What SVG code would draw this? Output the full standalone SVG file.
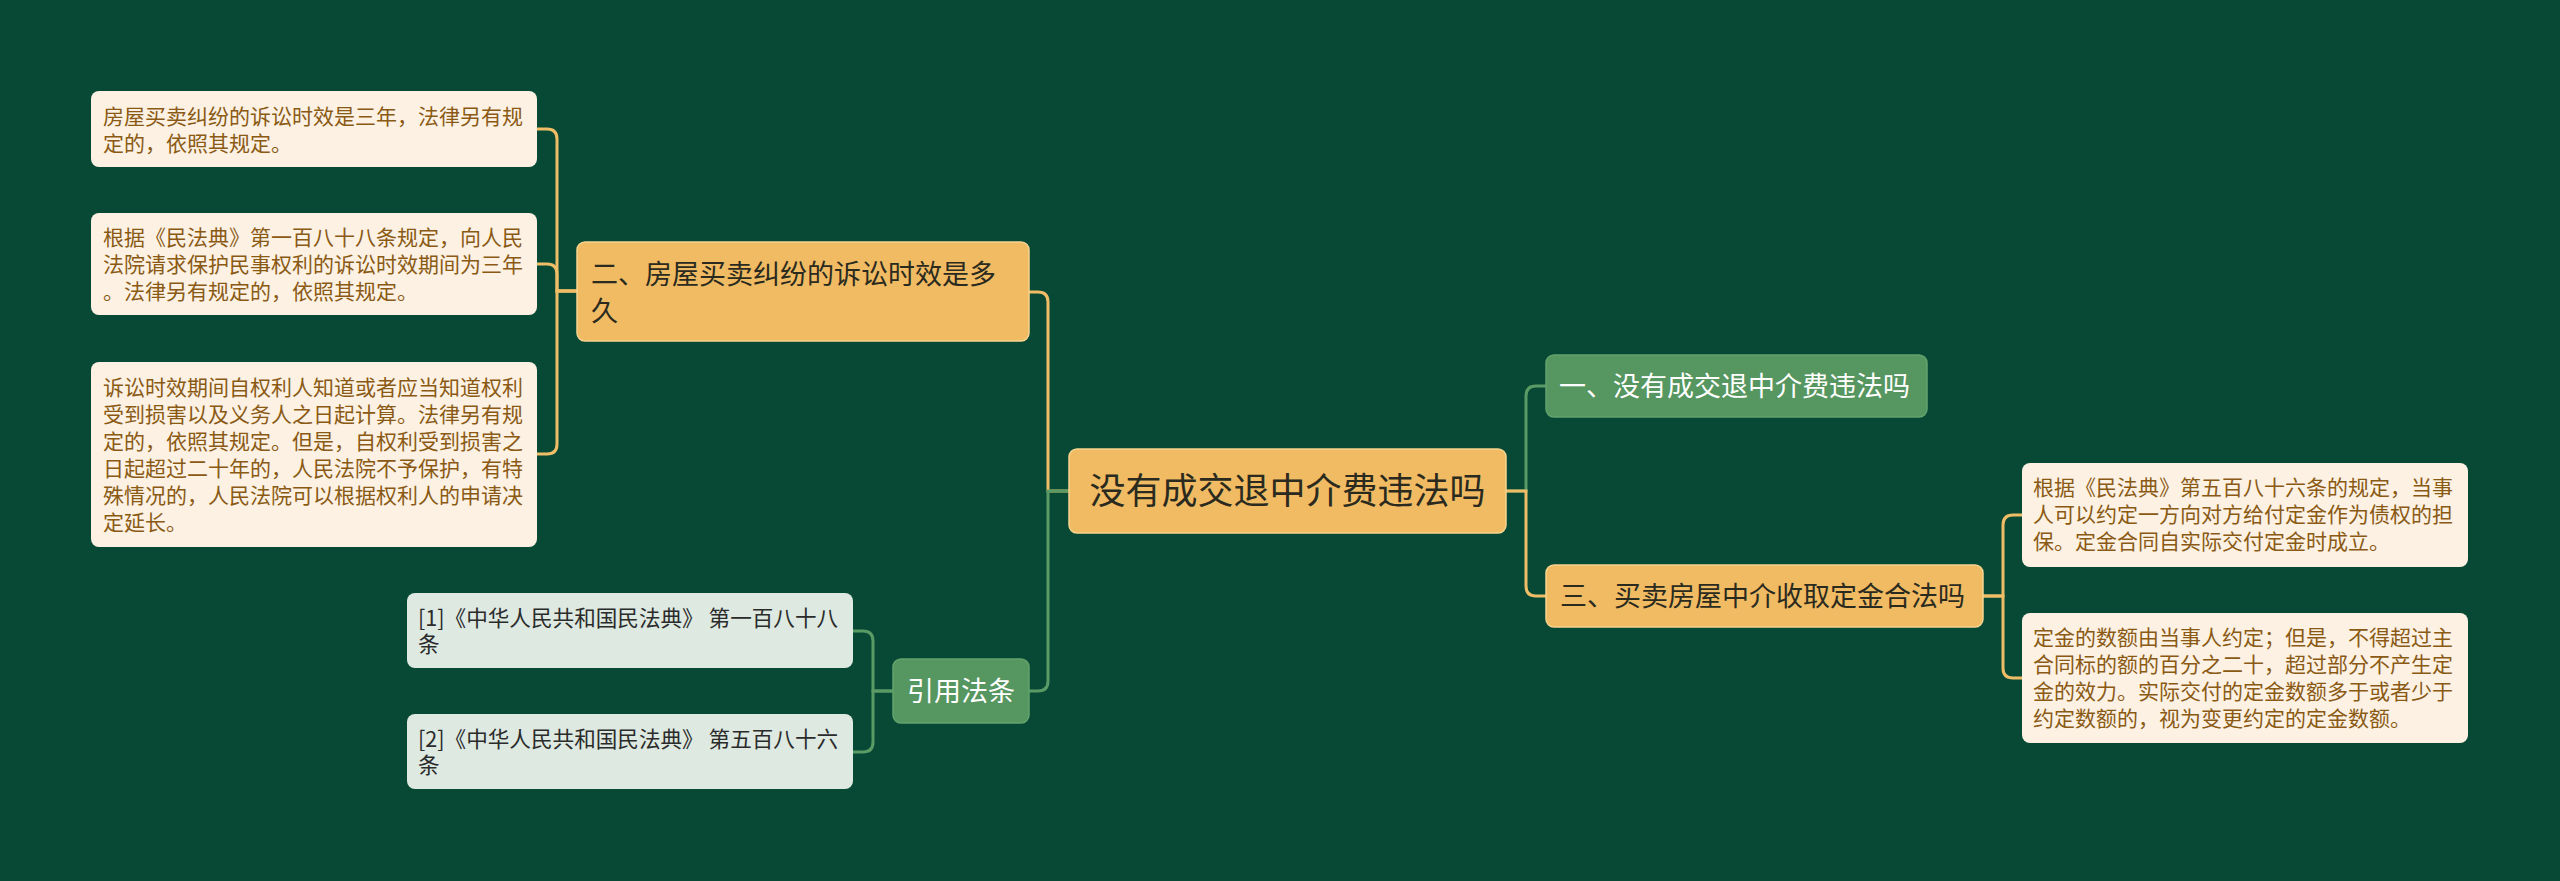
<svg xmlns="http://www.w3.org/2000/svg" width="2560" height="881" viewBox="0 0 2560 881">
<style>
text{font-family:"Noto Sans CJK SC","Noto Sans",sans-serif;}
.y{fill:#f0bb63;stroke:#f6d48e;stroke-width:1.5;}
.g{fill:#569660;stroke:#63a36c;stroke-width:1.5;}
.leaf{fill:#fcf1e3;}
.ref{fill:#dde9e1;}
.lt{font-size:21px;fill:#8a5a14;}
.rt{font-size:21.6px;fill:#2b2b2b;}
.yt{font-size:27px;fill:#2b2a1e;}
.gt{font-size:27px;fill:#ffffff;}
.cy{fill:none;stroke:#eebd66;stroke-width:3;}
.cg{fill:none;stroke:#5a9a64;stroke-width:3;}
</style>
<rect width="2560" height="881" fill="#084936"/>
<g id="connectors">
<path class="cy" d="M1069,491 H1048 V302 Q1048,292 1038,292 H1029"/>
<path class="cg" d="M1069,491 H1048 V681 Q1048,691 1038,691 H1029"/>
<path class="cg" d="M1506,491 H1526 V396 Q1526,386 1536,386 H1546"/>
<path class="cy" d="M1506,491 H1526 V586 Q1526,596 1536,596 H1546"/>
<path class="cy" d="M577,291 H557 V139 Q557,129 547,129 H537"/>
<path class="cy" d="M577,291 H557 V274 Q557,264 547,264 H537"/>
<path class="cy" d="M577,291 H557 V444 Q557,454 547,454 H537"/>
<path class="cg" d="M893,691 H873 V641 Q873,631 863,631 H853"/>
<path class="cg" d="M893,691 H873 V742 Q873,752 863,752 H853"/>
<path class="cy" d="M1983,596 H2003 V525 Q2003,515 2013,515 H2022"/>
<path class="cy" d="M1983,596 H2003 V668 Q2003,678 2013,678 H2022"/>
</g>
<g id="center">
<rect class="y" x="1069" y="449" width="437" height="84" rx="8"/>
<text x="1287.5" y="504" font-size="36" fill="#2b2a1e" text-anchor="middle">没有成交退中介费违法吗</text>
</g>
<g id="n2">
<rect class="y" x="577" y="242" width="452" height="99" rx="8"/>
<text class="yt" x="591" y="284">二、房屋买卖纠纷的诉讼时效是多</text>
<text class="yt" x="591" y="321">久</text>
</g>
<g id="n-ref">
<rect class="g" x="893" y="659" width="136" height="64" rx="8"/>
<text class="gt" x="961" y="701" text-anchor="middle">引用法条</text>
</g>
<g id="n1">
<rect class="g" x="1546" y="355" width="381" height="62" rx="8"/>
<text class="gt" x="1559" y="396">一、没有成交退中介费违法吗</text>
</g>
<g id="n3">
<rect class="y" x="1546" y="565" width="437" height="62" rx="8"/>
<text class="yt" x="1560" y="606">三、买卖房屋中介收取定金合法吗</text>
</g>
<g id="l1">
<rect class="leaf" x="91" y="91" width="446" height="76" rx="8"/>
<text class="lt" x="103" y="124">房屋买卖纠纷的诉讼时效是三年，法律另有规</text>
<text class="lt" x="103" y="151">定的，依照其规定。</text>
</g>
<g id="l2">
<rect class="leaf" x="91" y="213" width="446" height="102" rx="8"/>
<text class="lt" x="103" y="245">根据《民法典》第一百八十八条规定，向人民</text>
<text class="lt" x="103" y="272">法院请求保护民事权利的诉讼时效期间为三年</text>
<text class="lt" x="103" y="299">。法律另有规定的，依照其规定。</text>
</g>
<g id="l3">
<rect class="leaf" x="91" y="362" width="446" height="185" rx="8"/>
<text class="lt" x="103" y="395">诉讼时效期间自权利人知道或者应当知道权利</text>
<text class="lt" x="103" y="422">受到损害以及义务人之日起计算。法律另有规</text>
<text class="lt" x="103" y="449">定的，依照其规定。但是，自权利受到损害之</text>
<text class="lt" x="103" y="476">日起超过二十年的，人民法院不予保护，有特</text>
<text class="lt" x="103" y="503">殊情况的，人民法院可以根据权利人的申请决</text>
<text class="lt" x="103" y="530">定延长。</text>
</g>
<g id="ref1">
<rect class="ref" x="407" y="593" width="446" height="75" rx="8"/>
<text class="rt" x="418" y="626">[1]《中华人民共和国民法典》 第一百八十八</text>
<text class="rt" x="418" y="652">条</text>
</g>
<g id="ref2">
<rect class="ref" x="407" y="714" width="446" height="75" rx="8"/>
<text class="rt" x="418" y="747">[2]《中华人民共和国民法典》 第五百八十六</text>
<text class="rt" x="418" y="773">条</text>
</g>
<g id="r1">
<rect class="leaf" x="2022" y="463" width="446" height="104" rx="8"/>
<text class="lt" x="2033" y="495">根据《民法典》第五百八十六条的规定，当事</text>
<text class="lt" x="2033" y="522">人可以约定一方向对方给付定金作为债权的担</text>
<text class="lt" x="2033" y="549">保。定金合同自实际交付定金时成立。</text>
</g>
<g id="r2">
<rect class="leaf" x="2022" y="613" width="446" height="130" rx="8"/>
<text class="lt" x="2033" y="645">定金的数额由当事人约定；但是，不得超过主</text>
<text class="lt" x="2033" y="672">合同标的额的百分之二十，超过部分不产生定</text>
<text class="lt" x="2033" y="699">金的效力。实际交付的定金数额多于或者少于</text>
<text class="lt" x="2033" y="726">约定数额的，视为变更约定的定金数额。</text>
</g>
</svg>
